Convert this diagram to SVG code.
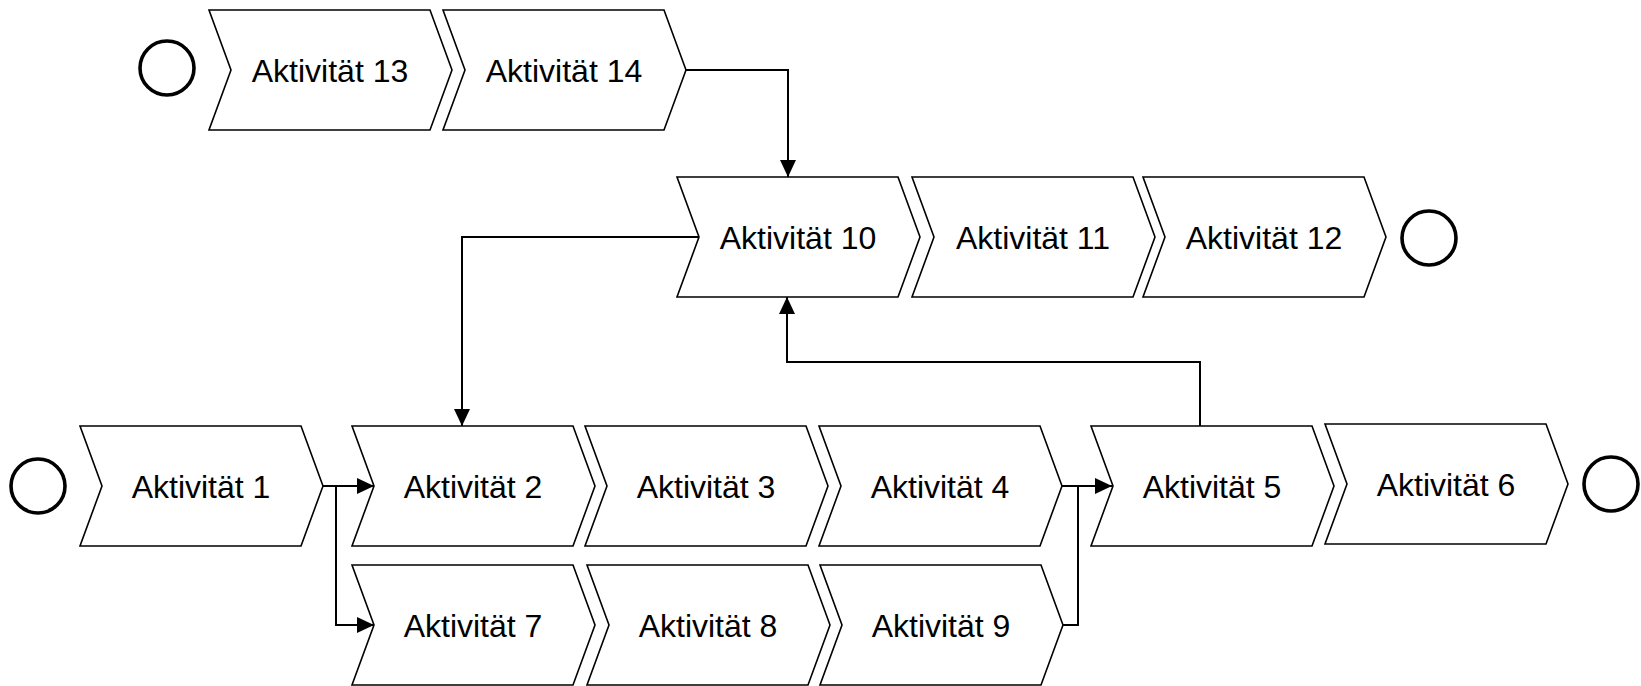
<svg xmlns="http://www.w3.org/2000/svg" width="1641" height="686" viewBox="0 0 1641 686">
  <style>
    .act { fill: #ffffff; stroke: #000000; stroke-width: 1.6; stroke-linejoin: miter; }
    .evt { fill: none; stroke: #000000; stroke-width: 3.6; }
    .lbl { font-family: "Liberation Sans", Arial, sans-serif; font-size: 32px; fill: #000000; text-anchor: middle; }
    .flow { fill: none; stroke: #000000; stroke-width: 2; }
  </style>
  <defs>
    <!-- chevron activity shape: 221 wide body, 22 deep point/notch, 120 high -->
    <path id="chev" d="M0,0 L221,0 L243,60 L221,120 L0,120 L22,60 Z"/>
    <marker id="arr" markerUnits="userSpaceOnUse" markerWidth="18" markerHeight="18" viewBox="0 0 18 18" refX="17" refY="9" orient="auto">
      <path d="M0,1 L17,9 L0,17 Z" fill="#000000"/>
    </marker>
  </defs>
  <rect width="1641" height="686" fill="#ffffff"/>

  <!-- start / end events -->
  <g id="start13"><circle class="evt" cx="167" cy="68" r="27"/></g>
  <g id="start1"><circle class="evt" cx="38" cy="486" r="27"/></g>
  <g id="end12"><circle class="evt" cx="1429" cy="238" r="27"/></g>
  <g id="end6"><circle class="evt" cx="1611" cy="484" r="27"/></g>

  <!-- activities -->
  <g id="a13" transform="translate(209,10)"><use href="#chev" class="act"/><text class="lbl" x="121" y="72">Aktivität 13</text></g>
  <g id="a14" transform="translate(443,10)"><use href="#chev" class="act"/><text class="lbl" x="121" y="72">Aktivität 14</text></g>
  <g id="a10" transform="translate(677,177)"><use href="#chev" class="act"/><text class="lbl" x="121" y="72">Aktivität 10</text></g>
  <g id="a11" transform="translate(912,177)"><use href="#chev" class="act"/><text class="lbl" x="121" y="72">Aktivität 11</text></g>
  <g id="a12" transform="translate(1143,177)"><use href="#chev" class="act"/><text class="lbl" x="121" y="72">Aktivität 12</text></g>
  <g id="a1" transform="translate(80,426)"><use href="#chev" class="act"/><text class="lbl" x="121" y="72">Aktivität 1</text></g>
  <g id="a2" transform="translate(352,426)"><use href="#chev" class="act"/><text class="lbl" x="121" y="72">Aktivität 2</text></g>
  <g id="a3" transform="translate(585,426)"><use href="#chev" class="act"/><text class="lbl" x="121" y="72">Aktivität 3</text></g>
  <g id="a4" transform="translate(819,426)"><use href="#chev" class="act"/><text class="lbl" x="121" y="72">Aktivität 4</text></g>
  <g id="a5" transform="translate(1091,426)"><use href="#chev" class="act"/><text class="lbl" x="121" y="72">Aktivität 5</text></g>
  <g id="a6" transform="translate(1325,424)"><use href="#chev" class="act"/><text class="lbl" x="121" y="72">Aktivität 6</text></g>
  <g id="a7" transform="translate(352,565)"><use href="#chev" class="act"/><text class="lbl" x="121" y="72">Aktivität 7</text></g>
  <g id="a8" transform="translate(587,565)"><use href="#chev" class="act"/><text class="lbl" x="121" y="72">Aktivität 8</text></g>
  <g id="a9" transform="translate(820,565)"><use href="#chev" class="act"/><text class="lbl" x="121" y="72">Aktivität 9</text></g>

  <!-- control flow -->
  <g id="connectors">
    <path class="flow" d="M685,70 H788 V177" marker-end="url(#arr)"/>
    <path class="flow" d="M699,237 H462 V426" marker-end="url(#arr)"/>
    <path class="flow" d="M1200,426 V362 H787 V297" marker-end="url(#arr)"/>
    <path class="flow" d="M323,486 H374" marker-end="url(#arr)"/>
    <path class="flow" d="M336,486 V625 H374" marker-end="url(#arr)"/>
    <path class="flow" d="M1062,486 H1112" marker-end="url(#arr)"/>
    <path class="flow" d="M1063,625 H1078 V486"/>
  </g>
</svg>
